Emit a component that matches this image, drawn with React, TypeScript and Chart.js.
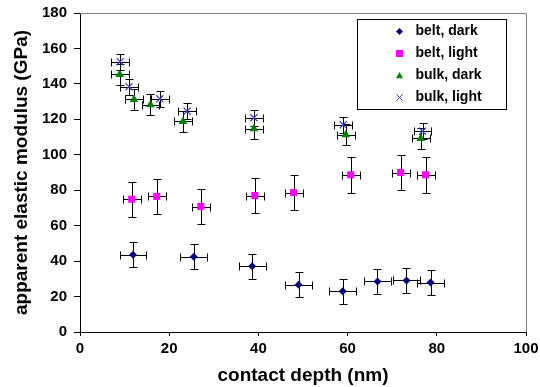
import React, { useEffect, useRef } from 'react';
import { Chart, registerables } from 'chart.js';

Chart.register(...registerables);

const seriesNames = ['belt, dark', 'belt, light', 'bulk, dark', 'bulk, light'];
const seriesColors = ['#000080', '#FF00FF', '#008000', '#3C3CC0'];
const seriesStyles = ['rectRot', 'rect', 'triangle', 'crossRot'];
const seriesRadius = [4, 5, 5, 5];

const beltDarkX = [11.9, 25.5, 38.6, 49.0, 58.9, 66.7, 73.2, 78.6];
const beltDarkY = [43.6, 42.4, 37.1, 26.6, 23.0, 28.5, 29.1, 27.9];
const beltDarkXErr = [3, 3, 3, 3, 3, 3, 3, 3];
const beltDarkYErr = [7, 7, 7, 7, 7, 7, 7, 7];

const beltLightX = [11.6, 17.2, 27.1, 39.2, 47.9, 60.7, 71.9, 77.5];
const beltLightY = [74.9, 76.5, 70.8, 77.0, 78.7, 88.7, 90.0, 88.7];
const beltLightXErr = [2, 2, 2, 2, 2, 2, 2, 2];
const beltLightYErr = [10, 10, 10, 10, 10, 10, 10, 10];

const bulkDarkX = [8.9, 12.1, 15.8, 23.1, 39.0, 59.6, 76.4];
const bulkDarkY = [145.3, 131.2, 128.2, 118.8, 114.7, 111.3, 109.2];
const bulkDarkXErr = [2, 2, 2, 2, 2, 2, 2];
const bulkDarkYErr = [6, 6, 6, 6, 6, 6, 6];

const bulkLightX = [9.0, 11.0, 17.9, 24.0, 39.0, 59.0, 76.8];
const bulkLightY = [152.5, 138.4, 131.6, 124.6, 120.9, 116.9, 113.3];
const bulkLightXErr = [2, 2, 2, 2, 2, 2, 2];
const bulkLightYErr = [4.5, 4.5, 4.5, 4.5, 4.5, 4.5, 4.5];

const xTitle = 'contact depth (nm)';
const yTitle = 'apparent elastic modulus (GPa)';

const FONT = '"Liberation Sans", Arial, Helvetica, sans-serif';

function buildPoints(xs: number[], ys: number[], xe: number[], ye: number[]) {
  return xs.map((x, i) => ({ x, y: ys[i], xErr: xe[i], yErr: ye[i] }));
}

function drawMarker(ctx: CanvasRenderingContext2D, style: string, x: number, y: number, r: number, color: string) {
  ctx.save();
  ctx.fillStyle = color;
  ctx.strokeStyle = color;
  ctx.lineWidth = 1;
  ctx.beginPath();
  if (style === 'rectRot') {
    ctx.moveTo(x, y - r);
    ctx.lineTo(x + r, y);
    ctx.lineTo(x, y + r);
    ctx.lineTo(x - r, y);
    ctx.closePath();
    ctx.fill();
  } else if (style === 'rect') {
    ctx.rect(x - r, y - r, 2 * r, 2 * r);
    ctx.fill();
  } else if (style === 'triangle') {
    ctx.moveTo(x, y - r);
    ctx.lineTo(x + r, y + r * 0.8);
    ctx.lineTo(x - r, y + r * 0.8);
    ctx.closePath();
    ctx.fill();
  } else {
    ctx.moveTo(x - r, y - r);
    ctx.lineTo(x + r, y + r);
    ctx.moveTo(x + r, y - r);
    ctx.lineTo(x - r, y + r);
    ctx.stroke();
  }
  ctx.restore();
}

const errorBarPlugin = {
  id: 'errorBars',
  beforeDatasetsDraw(chart: any) {
    const { ctx, scales } = chart;
    const xs = scales.x;
    const ys = scales.y;
    const snap = (v: number) => Math.round(v) + 0.5;
    const c = 4;
    ctx.save();
    ctx.strokeStyle = '#000000';
    ctx.lineWidth = 1;
    chart.data.datasets.forEach((ds: any) => {
      ds.data.forEach((p: any) => {
        const px = snap(xs.getPixelForValue(p.x));
        const py = snap(ys.getPixelForValue(p.y));
        const x0 = snap(xs.getPixelForValue(p.x - p.xErr));
        const x1 = snap(xs.getPixelForValue(p.x + p.xErr));
        const y0 = snap(ys.getPixelForValue(p.y - p.yErr));
        const y1 = snap(ys.getPixelForValue(p.y + p.yErr));
        ctx.beginPath();
        ctx.moveTo(px, y0); ctx.lineTo(px, y1);
        ctx.moveTo(px - c, y0); ctx.lineTo(px + c, y0);
        ctx.moveTo(px - c, y1); ctx.lineTo(px + c, y1);
        ctx.moveTo(x0, py); ctx.lineTo(x1, py);
        ctx.moveTo(x0, py - c); ctx.lineTo(x0, py + c);
        ctx.moveTo(x1, py - c); ctx.lineTo(x1, py + c);
        ctx.stroke();
      });
    });
    ctx.restore();
  },
};

const framePlugin = {
  id: 'frame',
  beforeDatasetsDraw(chart: any) {
    const { ctx, chartArea } = chart;
    const top = Math.round(chartArea.top) + 0.5;
    const right = Math.round(chartArea.right) + 0.5;
    ctx.save();
    ctx.strokeStyle = '#808080';
    ctx.lineWidth = 1;
    ctx.beginPath();
    ctx.moveTo(Math.round(chartArea.left), top);
    ctx.lineTo(right, top);
    ctx.lineTo(right, Math.round(chartArea.bottom));
    ctx.stroke();
    ctx.restore();
  },
};

const legendBoxPlugin = {
  id: 'legendBox',
  afterDatasetsDraw(chart: any) {
    const { ctx, chartArea } = chart;
    const right = Math.round(chartArea.right) - 20 + 0.5;
    const left = right - 149;
    const top = Math.round(chartArea.top) + 6 + 0.5;
    const height = 90;
    ctx.save();
    ctx.fillStyle = '#ffffff';
    ctx.fillRect(left, top, right - left, height);
    ctx.strokeStyle = '#000000';
    ctx.lineWidth = 1;
    ctx.strokeRect(left, top, right - left, height);
    ctx.font = `bold 14px ${FONT}`;
    ctx.textBaseline = 'middle';
    ctx.textAlign = 'left';
    chart.data.datasets.forEach((ds: any, i: number) => {
      const cy = top + 12 + i * 22;
      drawMarker(ctx, seriesStyles[i], left + 42, cy, i === 3 ? 3 : 3.5, seriesColors[i]);
      ctx.fillStyle = '#000000';
      ctx.fillText(ds.label, left + 58, cy);
    });
    ctx.restore();
  },
};

export default function App() {
  const ref = useRef<HTMLCanvasElement | null>(null);

  useEffect(() => {
    if (!ref.current) return;
    const pointSets = [
      buildPoints(beltDarkX, beltDarkY, beltDarkXErr, beltDarkYErr),
      buildPoints(beltLightX, beltLightY, beltLightXErr, beltLightYErr),
      buildPoints(bulkDarkX, bulkDarkY, bulkDarkXErr, bulkDarkYErr),
      buildPoints(bulkLightX, bulkLightY, bulkLightXErr, bulkLightYErr),
    ];
    const chart = new Chart(ref.current, {
      type: 'scatter',
      data: {
        datasets: pointSets.map((pts, i) => ({
          label: seriesNames[i],
          data: pts,
          pointStyle: seriesStyles[i] as any,
          pointRadius: seriesRadius[i],
          pointBackgroundColor: seriesColors[i],
          pointBorderColor: seriesColors[i],
          pointBorderWidth: i === 3 ? 1.2 : 0,
          showLine: false,
        })),
      },
      options: {
        animation: false,
        responsive: false,
        devicePixelRatio: 1,
        layout: { padding: { top: 13, right: 14, left: 0, bottom: 0 } },
        plugins: {
          legend: { display: false },
          tooltip: { enabled: false },
        },
        scales: {
          x: {
            type: 'linear',
            min: 0,
            max: 100,
            ticks: {
              stepSize: 20,
              color: '#000000',
              font: { family: FONT, size: 15, weight: 'bold' },
              padding: 4,
              maxRotation: 0,
            },
            grid: { drawOnChartArea: false, color: '#000000', tickLength: 4 },
            border: { display: true, color: '#000000', width: 1 },
            title: {
              display: true,
              text: xTitle,
              color: '#000000',
              font: { family: FONT, size: 19, weight: 'bold' },
              padding: { top: 0, bottom: 0 },
            },
            afterFit: (s: any) => { s.height = 55; s.paddingLeft = 0; s.paddingRight = 0; },
          },
          y: {
            type: 'linear',
            min: 0,
            max: 180,
            ticks: {
              stepSize: 20,
              color: '#000000',
              font: { family: FONT, size: 15, weight: 'bold' },
              padding: 7,
            },
            grid: { drawOnChartArea: false, color: '#000000', tickLength: 6 },
            border: { display: true, color: '#000000', width: 1 },
            title: {
              display: true,
              text: yTitle,
              color: '#000000',
              font: { family: FONT, size: 19, weight: 'bold' },
              padding: { top: 10, bottom: 0 },
            },
            afterFit: (s: any) => { s.width = 80; s.paddingTop = 0; s.paddingBottom = 0; },
          },
        },
      },
      plugins: [framePlugin, errorBarPlugin, legendBoxPlugin],
    });
    return () => chart.destroy();
  }, []);

  return (
    <div style={{ position: 'fixed', left: 0, top: 0, width: 540, height: 387, background: '#ffffff' }}>
      <canvas ref={ref} width={540} height={387} style={{ display: 'block' }} />
    </div>
  );
}
